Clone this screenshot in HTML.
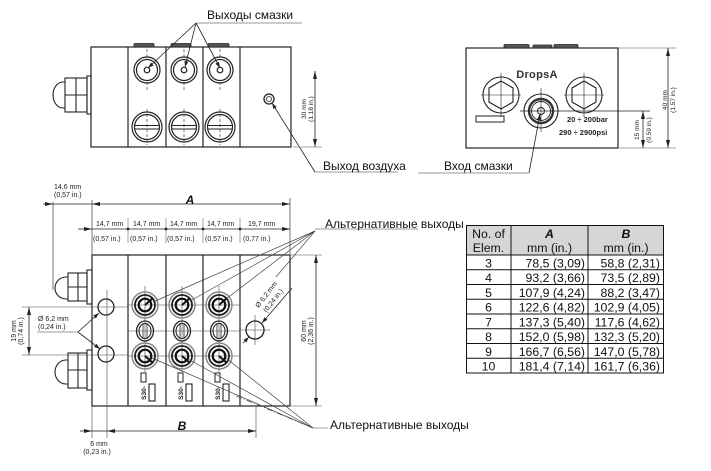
<!DOCTYPE html>
<html><head><meta charset="utf-8"><style>
html,body{margin:0;padding:0;background:#fff;}
svg{display:block;font-family:"Liberation Sans","DejaVu Sans",sans-serif;}
</style></head><body>
<svg width="711" height="471" viewBox="0 0 711 471" xmlns="http://www.w3.org/2000/svg">
<defs>
<marker id="ar" viewBox="0 0 8 4" refX="8" refY="2" markerWidth="8" markerHeight="4" markerUnits="userSpaceOnUse" orient="auto-start-reverse"><path d="M0,0 L8,2 L0,4 z" fill="#222"/></marker>
<marker id="as" viewBox="0 0 6 4" refX="6" refY="2" markerWidth="6" markerHeight="4" markerUnits="userSpaceOnUse" orient="auto-start-reverse"><path d="M0,0 L6,2 L0,4 z" fill="#222"/></marker>
</defs>
<rect width="711" height="471" fill="#fff"/>

<!-- ================= TOP LEFT VIEW ================= -->
<g stroke="#222" fill="none" stroke-width="1.2">
  <rect x="91" y="47" width="200" height="100"/>
  <line x1="128" y1="47" x2="128" y2="147"/>
  <line x1="166" y1="47" x2="166" y2="147"/>
  <line x1="203" y1="47" x2="203" y2="147"/>
  <line x1="240" y1="47" x2="240" y2="147"/>
</g>
<g fill="#555" stroke="#222" stroke-width="0.8">
  <rect x="134" y="43.5" width="20" height="3.5" rx="1"/>
  <rect x="171" y="43.5" width="20" height="3.5" rx="1"/>
  <rect x="208" y="43.5" width="21" height="3.5" rx="1"/>
</g>
<!-- fitting -->
<g stroke="#222" fill="none" stroke-width="1.1">
  <rect x="87" y="76" width="4" height="38"/>
  <rect x="65" y="78" width="22" height="34"/>
  <line x1="65" y1="95" x2="87" y2="95"/>
  <line x1="76" y1="78" x2="76" y2="112"/>
  <path d="M65,82 H63 A10,13 0 0 0 63,108 H65"/>
</g>
<!-- upper outlets -->
<g stroke="#222" fill="none">
  <g stroke-width="1.2">
    <circle cx="147" cy="70" r="13"/><circle cx="147" cy="70" r="10.5"/><circle cx="147" cy="70" r="2.8"/>
    <circle cx="184" cy="70" r="13"/><circle cx="184" cy="70" r="10.5"/><circle cx="184" cy="70" r="2.8"/>
    <circle cx="220" cy="70" r="13"/><circle cx="220" cy="70" r="10.5"/><circle cx="220" cy="70" r="2.8"/>
  </g>
  <g stroke-width="0.6" stroke-dasharray="3,2">
    <line x1="147" y1="49" x2="147" y2="58"/><line x1="147" y1="82" x2="147" y2="91"/>
    <line x1="184" y1="49" x2="184" y2="58"/><line x1="184" y1="82" x2="184" y2="91"/>
    <line x1="220" y1="49" x2="220" y2="58"/><line x1="220" y1="82" x2="220" y2="91"/>
  </g>
  <!-- lower plugs -->
  <g stroke-width="1.2">
    <circle cx="147" cy="127" r="15"/><circle cx="147" cy="127" r="12.5"/>
    <circle cx="184" cy="127" r="15"/><circle cx="184" cy="127" r="12.5"/>
    <circle cx="220" cy="127" r="15"/><circle cx="220" cy="127" r="12.5"/>
  </g>
  <g stroke-width="1">
    <line x1="134.5" y1="125.5" x2="159.5" y2="125.5"/><line x1="134.5" y1="129" x2="159.5" y2="129"/>
    <line x1="171.5" y1="125.5" x2="196.5" y2="125.5"/><line x1="171.5" y1="129" x2="196.5" y2="129"/>
    <line x1="207.5" y1="125.5" x2="232.5" y2="125.5"/><line x1="207.5" y1="129" x2="232.5" y2="129"/>
  </g>
  <g stroke-width="0.6" stroke-dasharray="3,2">
    <line x1="147" y1="109" x2="147" y2="145"/>
    <line x1="184" y1="109" x2="184" y2="145"/>
    <line x1="220" y1="109" x2="220" y2="145"/>
  </g>
  <!-- air outlet -->
  <circle cx="269" cy="99" r="5" stroke-width="1.3"/>
  <circle cx="269" cy="99" r="2.5" stroke-width="0.8"/>
</g>
<!-- leaders top-left -->
<g stroke="#222" stroke-width="0.8" fill="none">
  <line x1="196" y1="23" x2="302" y2="23" stroke="#777"/>
  <line x1="196" y1="23" x2="148" y2="68" marker-end="url(#as)"/>
  <line x1="196" y1="23" x2="185" y2="67" marker-end="url(#as)"/>
  <line x1="196" y1="23" x2="220" y2="68" marker-end="url(#as)"/>
  <line x1="315" y1="172" x2="272" y2="103" marker-end="url(#as)"/>
  <line x1="315" y1="172" x2="398" y2="172" stroke="#777"/>
  <!-- 30mm dim -->
  <line x1="315" y1="71" x2="315" y2="147" marker-start="url(#ar)" marker-end="url(#ar)"/>
  <line x1="293" y1="147" x2="322" y2="147" stroke="#888"/>
</g>
<text x="207" y="19" font-size="12" fill="#111">Выходы смазки</text>
<text x="323" y="170" font-size="12" fill="#111">Выход воздуха</text>
<g font-size="6.5" fill="#222" text-anchor="middle">
  <text transform="translate(306,109) rotate(-90)">30 mm</text>
  <text transform="translate(313,109) rotate(-90)">(1.18 in.)</text>
</g>

<!-- ================= TOP RIGHT VIEW ================= -->
<g stroke="#222" fill="none" stroke-width="1.2">
  <rect x="466" y="48" width="152" height="100"/>
</g>
<g fill="#555" stroke="#222" stroke-width="0.8">
  <rect x="504" y="44.5" width="25" height="3.5" rx="1"/>
  <rect x="533" y="45" width="19" height="3" rx="1"/>
  <rect x="554" y="44.5" width="24" height="3.5" rx="1"/>
</g>
<text x="537" y="78" font-size="11" font-weight="bold" fill="#333" text-anchor="middle" letter-spacing="0.3">DropsA</text>
<g stroke="#222" fill="none">
  <circle cx="501" cy="95" r="18" stroke-width="1.1"/>
  <polygon points="501,81 513,88 513,102 501,109 489,102 489,88" stroke-width="1.1"/>
  <circle cx="584" cy="95" r="18" stroke-width="1.1"/>
  <polygon points="584,81 596,88 596,102 584,109 572,102 572,88" stroke-width="1.1"/>
  <g stroke-width="0.6">
    <line x1="481" y1="95" x2="521" y2="95"/><line x1="501" y1="73" x2="501" y2="117"/>
    <line x1="564" y1="95" x2="604" y2="95"/><line x1="584" y1="73" x2="584" y2="117"/>
    <line x1="541" y1="88" x2="541" y2="132"/>
  </g>
  <circle cx="541" cy="111" r="17" stroke-width="1.1"/>
  <circle cx="541" cy="111" r="12" stroke-width="2.4" stroke="#333"/>
  <circle cx="541" cy="111" r="9.5" stroke-width="0.9"/>
  <circle cx="541" cy="111" r="3.5" stroke-width="1"/>
  <rect x="476" y="116" width="28" height="6" stroke-width="1"/>
  <line x1="520" y1="111" x2="650" y2="111" stroke-width="0.8"/>
</g>
<text x="567" y="122" font-size="7.5" font-weight="bold" fill="#222">20  ÷  200bar</text>
<text x="559" y="135" font-size="7.5" font-weight="bold" fill="#222">290  ÷  2900psi</text>
<g stroke="#222" stroke-width="0.8" fill="none">
  <line x1="618" y1="48" x2="676" y2="48" stroke="#888"/>
  <line x1="618" y1="148" x2="676" y2="148" stroke="#888"/>
  <line x1="643" y1="111" x2="643" y2="148" marker-start="url(#ar)" marker-end="url(#ar)"/>
  <line x1="668" y1="48" x2="668" y2="148" marker-start="url(#ar)" marker-end="url(#ar)"/>
  <!-- inlet leader -->
  <line x1="418" y1="173" x2="529" y2="173" stroke="#777"/>
  <line x1="529" y1="173" x2="540" y2="114" marker-end="url(#as)"/>
</g>
<text x="444" y="170" font-size="12" fill="#111">Вход смазки</text>
<g font-size="6.5" fill="#222" text-anchor="middle">
  <text transform="translate(639,130) rotate(-90)">15 mm</text>
  <text transform="translate(651,130) rotate(-90)">(0.59 in.)</text>
  <text transform="translate(667,100) rotate(-90)">40 mm</text>
  <text transform="translate(675,100) rotate(-90)">(1.57 in.)</text>
</g>

<!-- ================= BOTTOM VIEW ================= -->
<g stroke="#222" fill="none" stroke-width="1.2">
  <rect x="92" y="255" width="198" height="151"/>
  <line x1="128" y1="255" x2="128" y2="406"/>
  <line x1="166" y1="255" x2="166" y2="406"/>
  <line x1="203" y1="255" x2="203" y2="406"/>
  <line x1="240" y1="255" x2="240" y2="406"/>
</g>
<!-- fittings -->
<g stroke="#222" fill="none" stroke-width="1.1">
  <rect x="87" y="270" width="5" height="34"/>
  <rect x="68" y="273" width="19" height="28"/>
  <line x1="68" y1="287" x2="87" y2="287"/>
  <line x1="78" y1="273" x2="78" y2="301"/>
  <path d="M68,277 H66 A11,11 0 0 0 66,299 H68"/>
  <rect x="87" y="350" width="5" height="40"/>
  <rect x="68" y="353" width="19" height="35"/>
  <line x1="68" y1="370" x2="87" y2="370"/>
  <line x1="78" y1="353" x2="78" y2="388"/>
  <path d="M68,360 H66 A11,12 0 0 0 66,384 H68"/>
</g>
<!-- center lines -->
<g stroke="#444" stroke-width="0.6" fill="none">
  <line x1="22" y1="307" x2="128" y2="307"/>
  <line x1="22" y1="355" x2="128" y2="355"/>
  <line x1="128" y1="305" x2="240" y2="305"/>
  <line x1="128" y1="331" x2="240" y2="331"/>
  <line x1="128" y1="356" x2="240" y2="356"/>
  <line x1="107" y1="290" x2="107" y2="438"/>
  <line x1="145" y1="286" x2="145" y2="372"/>
  <line x1="182" y1="286" x2="182" y2="372"/>
  <line x1="219" y1="286" x2="219" y2="372"/>
  <line x1="240" y1="330" x2="270" y2="330"/>
  <line x1="255" y1="315" x2="255" y2="345"/>
  <line x1="256" y1="406" x2="256" y2="438"/>
  <line x1="92" y1="406" x2="92" y2="438"/>
</g>
<g stroke="#222" fill="none">
  <circle cx="106" cy="307" r="8" stroke-width="1.3"/>
  <circle cx="106" cy="354" r="8" stroke-width="1.3"/>
  <circle cx="255" cy="330" r="9" stroke-width="1.3"/>
</g>
<!-- section fittings -->
<g id="sec">
  <g fill="none">
    <circle cx="145" cy="305" r="13" stroke="#888" stroke-width="1.5"/>
    <circle cx="145" cy="305" r="10" stroke="#222" stroke-width="1.8"/>
    <circle cx="145" cy="305" r="6.3" stroke="#111" stroke-width="2.2"/>
    <line x1="145" y1="305" x2="153" y2="298" stroke="#111" stroke-width="2"/>
    <ellipse cx="145" cy="331" rx="8.5" ry="10" stroke="#222" stroke-width="1.3"/>
    <ellipse cx="145" cy="331" rx="6" ry="7.5" stroke="#222" stroke-width="1.1"/>
    <line x1="143" y1="323" x2="143" y2="339" stroke="#222" stroke-width="0.8"/>
    <line x1="147" y1="323" x2="147" y2="339" stroke="#222" stroke-width="0.8"/>
    <circle cx="145" cy="356" r="13" stroke="#888" stroke-width="1.5"/>
    <circle cx="145" cy="356" r="10" stroke="#222" stroke-width="1.8"/>
    <circle cx="145" cy="356" r="6.3" stroke="#111" stroke-width="2.2"/>
    <line x1="145" y1="356" x2="153" y2="363" stroke="#111" stroke-width="2"/>
    <rect x="141" y="373" width="5" height="9" stroke="#222" stroke-width="1"/>
    <rect x="149" y="384" width="6" height="17" stroke="#222" stroke-width="1.1"/>
  </g>
  <text transform="translate(146,393) rotate(-90)" font-size="6.5" font-weight="bold" fill="#222" text-anchor="middle">S30-</text>
</g>
<use href="#sec" x="37" y="0"/>
<use href="#sec" x="74" y="0"/>

<!-- dimensions bottom view -->
<g stroke="#222" stroke-width="0.8" fill="none">
  <line x1="53" y1="202" x2="53" y2="290" stroke="#555"/>
  <line x1="92" y1="200" x2="92" y2="255" stroke="#555"/>
  <line x1="290" y1="198" x2="290" y2="255" stroke="#555"/>
  <line x1="43" y1="204" x2="53" y2="204" marker-end="url(#ar)"/>
  <line x1="53" y1="204" x2="92" y2="204"/>
  <line x1="92" y1="204" x2="290" y2="204" marker-start="url(#ar)" marker-end="url(#ar)"/>
  <line x1="78" y1="229" x2="92" y2="229" marker-end="url(#ar)"/>
  <line x1="92" y1="229" x2="290" y2="229" marker-end="url(#ar)"/>
  <line x1="128" y1="218" x2="128" y2="243" stroke="#666" stroke-width="0.6"/>
  <line x1="166" y1="218" x2="166" y2="243" stroke="#666" stroke-width="0.6"/>
  <line x1="203" y1="218" x2="203" y2="243" stroke="#666" stroke-width="0.6"/>
  <line x1="240" y1="218" x2="240" y2="243" stroke="#666" stroke-width="0.6"/>
  <!-- 60mm -->
  <line x1="290" y1="255" x2="322" y2="255" stroke="#888"/>
  <line x1="290" y1="406" x2="322" y2="406" stroke="#888"/>
  <line x1="316" y1="255" x2="316" y2="406" marker-start="url(#ar)" marker-end="url(#ar)"/>
  <!-- 19mm -->
  <line x1="29" y1="307" x2="29" y2="355" marker-start="url(#ar)" marker-end="url(#ar)"/>
  <!-- Ø left -->
  <line x1="37" y1="332" x2="78" y2="332" stroke="#777"/>
  <line x1="78" y1="332" x2="99" y2="313" marker-end="url(#as)"/>
  <line x1="78" y1="332" x2="100" y2="349" marker-end="url(#as)"/>
  <!-- B -->
  <line x1="80" y1="431" x2="92" y2="431" marker-end="url(#ar)"/>
  <line x1="92" y1="431" x2="107" y2="431"/>
  <line x1="107" y1="431" x2="256" y2="431" marker-start="url(#ar)" marker-end="url(#ar)"/>
  <!-- Ø right diagonal -->
  <line x1="243" y1="343" x2="249" y2="337" marker-end="url(#as)"/>
  <line x1="292" y1="288" x2="262" y2="323" marker-end="url(#as)"/>
</g>
<g fill="#222">
  <circle cx="128" cy="229" r="1.4"/><circle cx="166" cy="229" r="1.4"/>
  <circle cx="203" cy="229" r="1.4"/><circle cx="240" cy="229" r="1.4"/>
</g>
<!-- alt outlets leaders -->
<g stroke="#444" stroke-width="0.7" fill="none">
  <line x1="315" y1="229" x2="418" y2="229" stroke="#777"/>
  <line x1="315" y1="231" x2="153" y2="302"/>
  <line x1="315" y1="231" x2="190" y2="301"/>
  <line x1="315" y1="231" x2="226" y2="299"/>
  <line x1="315" y1="231" x2="276" y2="277"/>
  <line x1="313" y1="428" x2="152" y2="358"/>
  <line x1="313" y1="428" x2="188" y2="359"/>
  <line x1="313" y1="428" x2="226" y2="358"/>
  <line x1="313" y1="428" x2="234" y2="395" stroke-dasharray="6,2,1,2"/>
  <line x1="313" y1="428" x2="328" y2="428" stroke="#777"/>
</g>
<text x="325" y="228" font-size="12" fill="#111">Альтернативные выходы</text>
<text x="330" y="429" font-size="12" fill="#111">Альтернативные выходы</text>

<g font-size="7" fill="#222">
  <text x="54" y="189">14,6 mm</text>
  <text x="54" y="197">(0,57 in.)</text>
  <text x="96" y="226">14,7 mm</text>
  <text x="133" y="226">14,7 mm</text>
  <text x="170" y="226">14,7 mm</text>
  <text x="207" y="226">14,7 mm</text>
  <text x="248" y="226">19,7 mm</text>
  <text x="93" y="241">(0,57 in.)</text>
  <text x="130" y="241">(0,57 in.)</text>
  <text x="167" y="241">(0,57 in.)</text>
  <text x="205" y="241">(0,57 in.)</text>
  <text x="243" y="241">(0,77 in.)</text>
  <text x="38" y="321">Ø 6,2 mm</text>
  <text x="38" y="329">(0,24 in.)</text>
  <text x="99" y="446" text-anchor="middle">6 mm</text>
  <text x="97" y="454" text-anchor="middle">(0,23 in.)</text>
  <text transform="translate(16,331) rotate(-90)" text-anchor="middle">19 mm</text>
  <text transform="translate(23,331) rotate(-90)" text-anchor="middle">(0,74 in.)</text>
  <text transform="translate(306,331) rotate(-90)" text-anchor="middle">60 mm</text>
  <text transform="translate(313,331) rotate(-90)" text-anchor="middle">(2,36 in.)</text>
  <text transform="translate(268,296) rotate(-52)" text-anchor="middle">Ø 6,2 mm</text>
  <text transform="translate(275,302) rotate(-52)" text-anchor="middle">(0,24 in.)</text>
</g>
<text x="190" y="204" font-size="12" font-weight="bold" font-style="italic" fill="#111" text-anchor="middle">A</text>
<text x="182" y="430" font-size="12" font-weight="bold" font-style="italic" fill="#111" text-anchor="middle">B</text>

<!-- ================= TABLE ================= -->
<g>
  <rect x="466" y="225" width="198" height="30" fill="#d6d6d6"/>
  <g stroke="#111" stroke-width="1" fill="none">
    <rect x="466.5" y="225.5" width="197" height="147.5"/>
    <line x1="511" y1="225" x2="511" y2="373"/>
    <line x1="588" y1="225" x2="588" y2="373"/>
    <line x1="466" y1="255" x2="664" y2="255"/>
    <line x1="466" y1="269.75" x2="664" y2="269.75"/>
    <line x1="466" y1="284.5" x2="664" y2="284.5"/>
    <line x1="466" y1="299.25" x2="664" y2="299.25"/>
    <line x1="466" y1="314" x2="664" y2="314"/>
    <line x1="466" y1="328.75" x2="664" y2="328.75"/>
    <line x1="466" y1="343.5" x2="664" y2="343.5"/>
    <line x1="466" y1="358.25" x2="664" y2="358.25"/>
  </g>
  <g font-size="12.3" fill="#111">
    <g text-anchor="middle">
      <text x="488.5" y="238">No. of</text>
      <text x="488.5" y="252">Elem.</text>
      <text x="549.5" y="238" font-style="italic" font-weight="bold">A</text>
      <text x="549.5" y="252">mm  (in.)</text>
      <text x="626" y="238" font-style="italic" font-weight="bold">B</text>
      <text x="626" y="252">mm  (in.)</text>
      <text x="488.5" y="267.5">3</text>
      <text x="488.5" y="282.2">4</text>
      <text x="488.5" y="297">5</text>
      <text x="488.5" y="311.7">6</text>
      <text x="488.5" y="326.5">7</text>
      <text x="488.5" y="341.2">8</text>
      <text x="488.5" y="356">9</text>
      <text x="488.5" y="370.7">10</text>
    </g>
    <g text-anchor="end">
      <text x="585" y="267.5">78,5 (3,09)</text>
      <text x="585" y="282.2">93,2 (3,66)</text>
      <text x="585" y="297">107,9 (4,24)</text>
      <text x="585" y="311.7">122,6 (4,82)</text>
      <text x="585" y="326.5">137,3 (5,40)</text>
      <text x="585" y="341.2">152,0 (5,98)</text>
      <text x="585" y="356">166,7 (6,56)</text>
      <text x="585" y="370.7">181,4 (7,14)</text>
      <text x="660" y="267.5">58,8 (2,31)</text>
      <text x="660" y="282.2">73,5 (2,89)</text>
      <text x="660" y="297">88,2 (3,47)</text>
      <text x="660" y="311.7">102,9 (4,05)</text>
      <text x="660" y="326.5">117,6 (4,62)</text>
      <text x="660" y="341.2">132,3 (5,20)</text>
      <text x="660" y="356">147,0 (5,78)</text>
      <text x="660" y="370.7">161,7 (6,36)</text>
    </g>
  </g>
</g>
</svg>
</body></html>
